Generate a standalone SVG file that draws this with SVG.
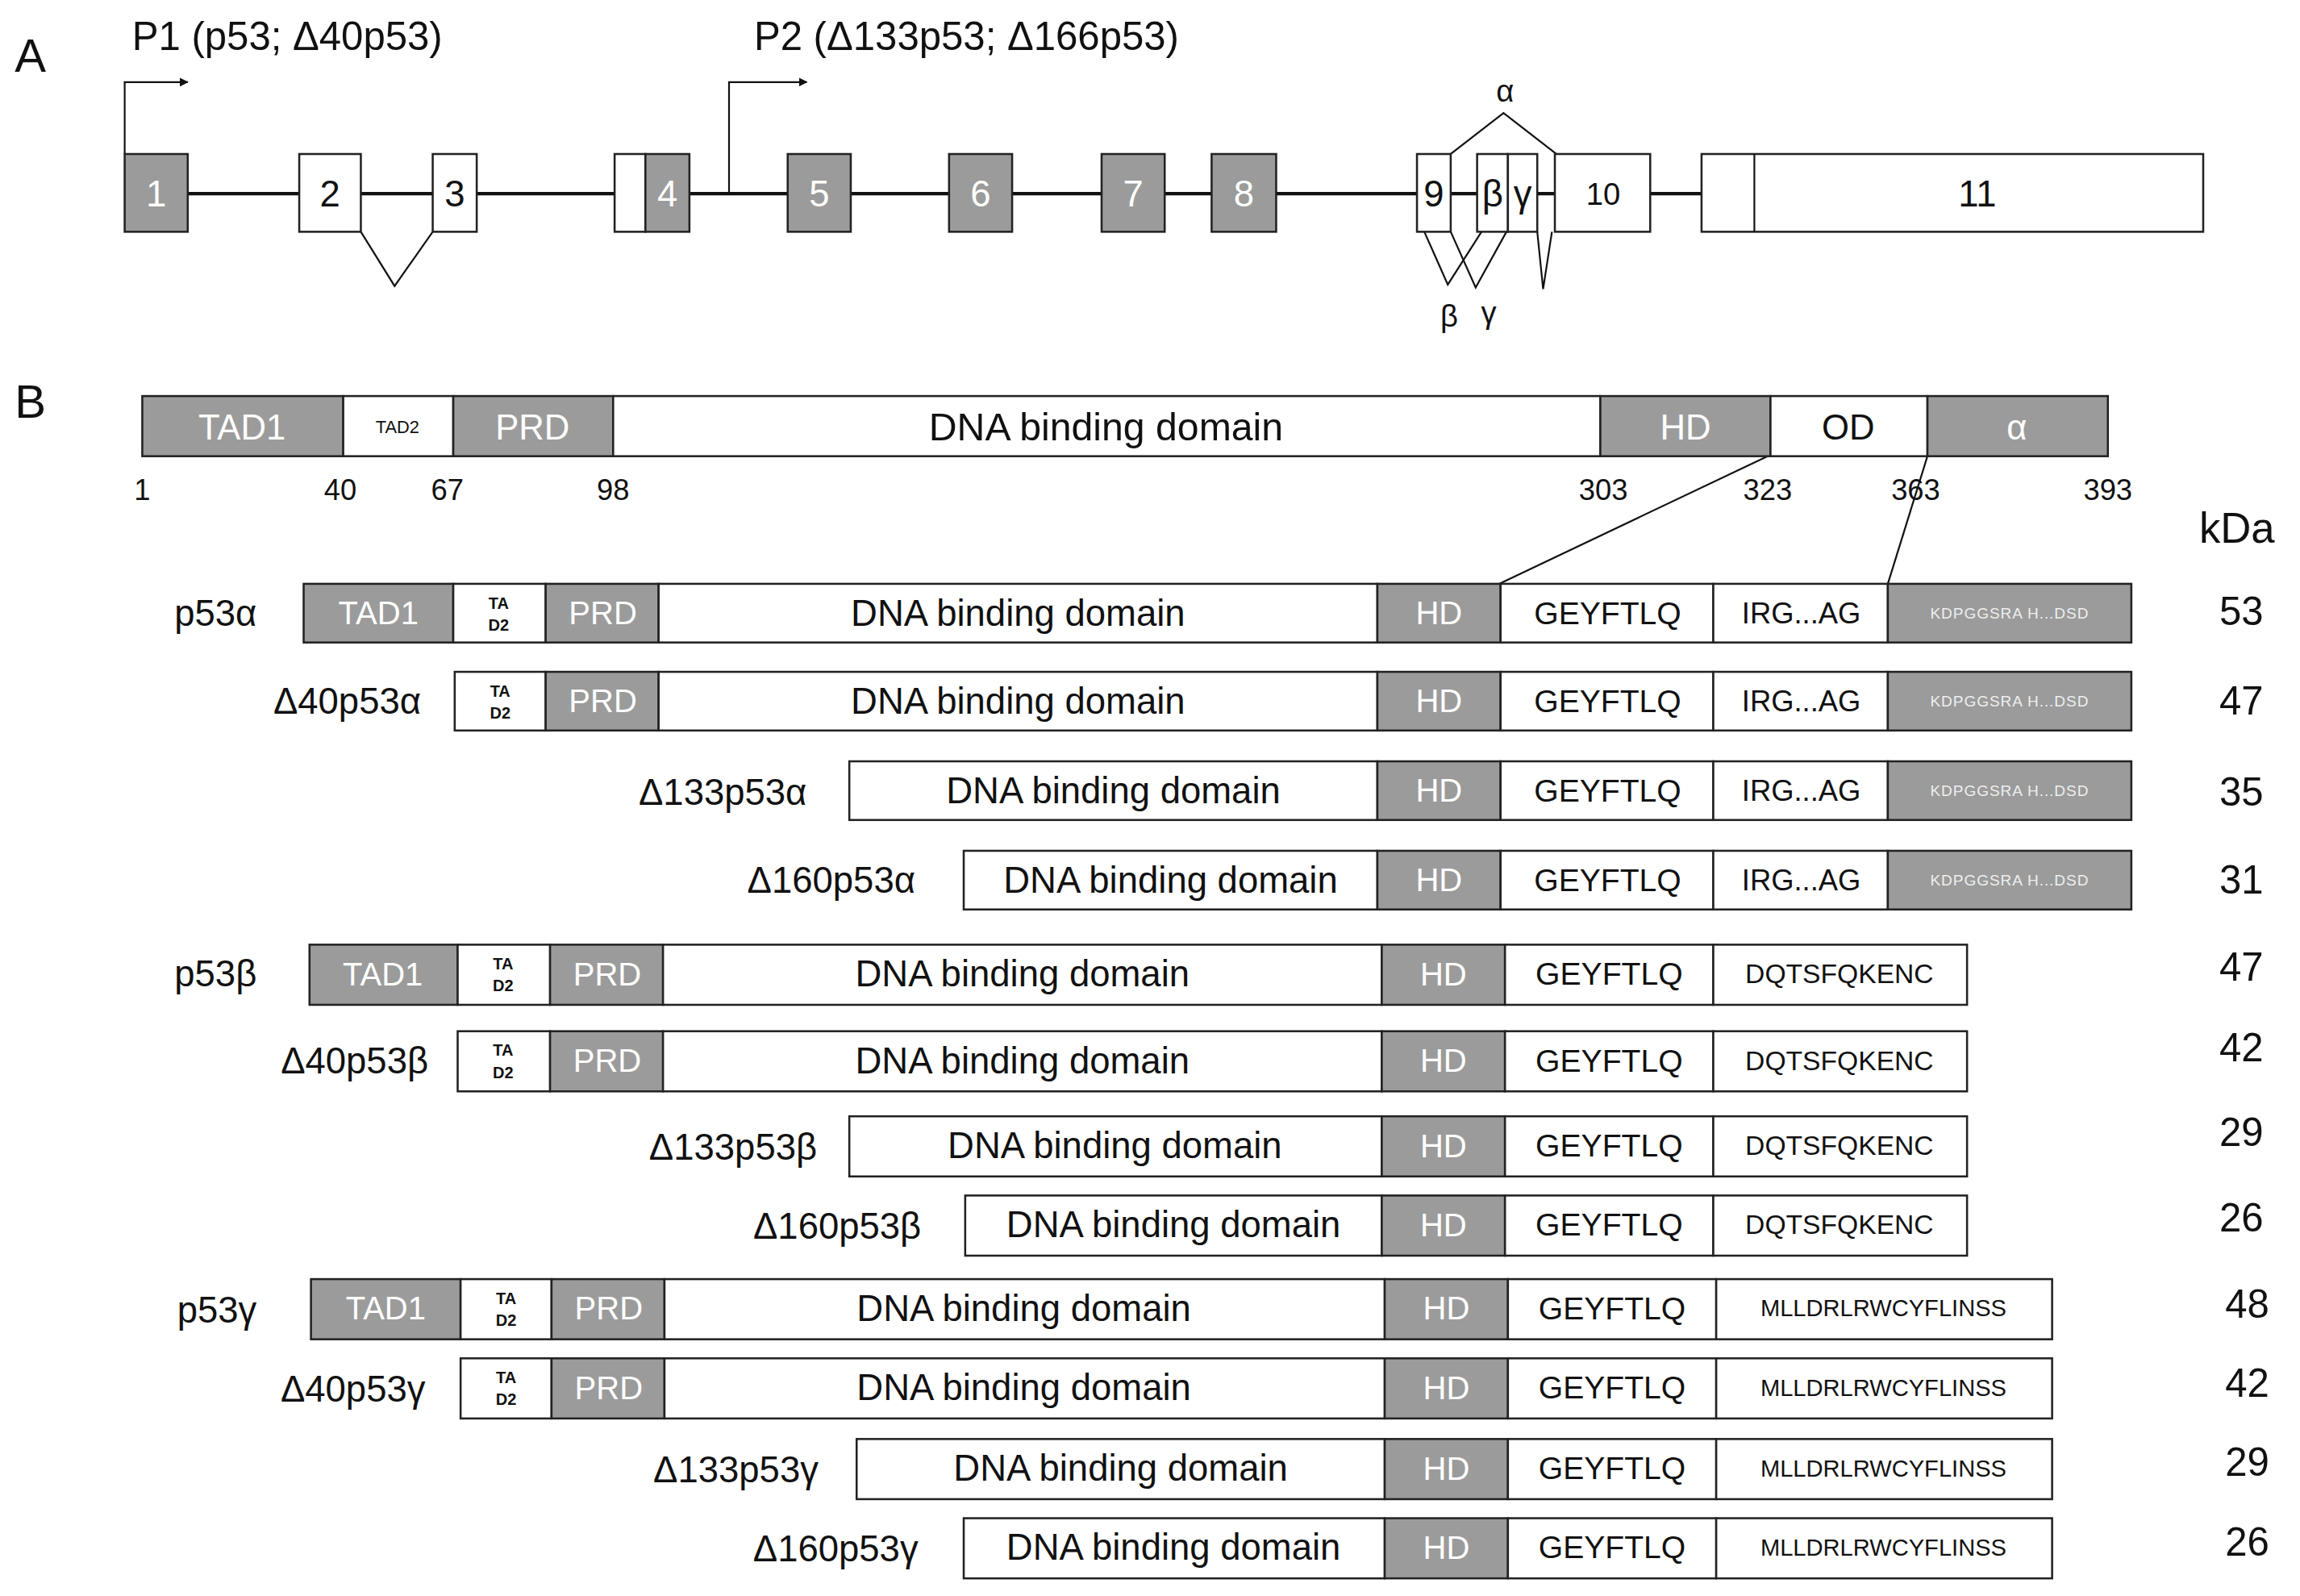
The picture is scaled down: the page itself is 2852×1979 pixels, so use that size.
<svg xmlns="http://www.w3.org/2000/svg" width="2852" height="1979" viewBox="0 0 2852 1979">
<defs>
<style>
text{font-family:"Liberation Sans",Arial,sans-serif;fill:#111}
.g{fill:#9b9b9b;stroke:#222;stroke-width:1.4}
.w{fill:#fff;stroke:#222;stroke-width:1.4}
.ln{fill:none;stroke:#111;stroke-width:1.2}
.c{text-anchor:middle;dominant-baseline:central}
.wt{fill:#fff}
.lab{font-size:25px;text-anchor:end;dominant-baseline:central}
.kd{font-size:27px;text-anchor:middle;dominant-baseline:central}
.dbd{font-size:25px}
.gey{font-size:21.5px}
.irg{font-size:20px}
.dq{font-size:18.5px}
.ml{font-size:16px}
.al{font-size:10.5px;fill:#eee;letter-spacing:0.5px}
.dom{font-size:22px}
.td{font-size:11px;font-weight:bold}
.ex{font-size:25px}
</style>
<marker id="ah" viewBox="0 0 10 10" refX="9" refY="5" markerWidth="5" markerHeight="5" orient="auto" markerUnits="strokeWidth"><path d="M0,0 L10,5 L0,10 z" fill="#111"/></marker>
</defs>
<rect width="2852" height="1979" fill="#fff"/>
<g transform="scale(1.8189)">
<text x="10" y="49" font-size="32">A</text>
<text x="10" y="285" font-size="32">B</text>
<text x="90" y="34" font-size="27">P1 (p53; Δ40p53)</text>
<text x="514" y="34" font-size="27">P2 (Δ133p53; Δ166p53)</text>
<g id="connectors">
<line x1="128" y1="132" x2="1160" y2="132" stroke="#111" stroke-width="2.4"/>
<path class="ln" d="M85 105 V56 H128" stroke-width="1.5" marker-end="url(#ah)"/>
<path class="ln" d="M497 132 V56 H550" stroke-width="1.5" marker-end="url(#ah)"/>
<path class="ln" d="M246 158 L269 195 L295 158"/>
<path class="ln" d="M989 105 L1025 77 L1061 105"/>
<path class="ln" d="M971 158 L987 194 L1010 158"/>
<path class="ln" d="M989 158 L1006 196 L1027 158"/>
<path class="ln" d="M1048 158 L1052 197 L1058 158"/>
<line class="ln" x1="1205" y1="311" x2="1022" y2="398"/>
<line class="ln" x1="1314" y1="311" x2="1287" y2="398"/>
</g>
<g id="exons">
<g id="ex1"><rect class="g" x="85" y="105" width="43" height="53"/><text class="c ex wt" x="106.5" y="132">1</text></g>
<g id="ex2"><rect class="w" x="204" y="105" width="42" height="53"/><text class="c ex" x="225" y="132">2</text></g>
<g id="ex3"><rect class="w" x="295" y="105" width="30" height="53"/><text class="c ex" x="310" y="132">3</text></g>
<g id="ex4"><rect class="w" x="419" y="105" width="21" height="53"/><rect class="g" x="440" y="105" width="30" height="53"/><text class="c ex wt" x="455" y="132">4</text></g>
<g id="ex5"><rect class="g" x="537" y="105" width="43" height="53"/><text class="c ex wt" x="558.5" y="132">5</text></g>
<g id="ex6"><rect class="g" x="647" y="105" width="43" height="53"/><text class="c ex wt" x="668.5" y="132">6</text></g>
<g id="ex7"><rect class="g" x="751" y="105" width="43" height="53"/><text class="c ex wt" x="772.5" y="132">7</text></g>
<g id="ex8"><rect class="g" x="826" y="105" width="44" height="53"/><text class="c ex wt" x="848" y="132">8</text></g>
<g id="ex9"><rect class="w" x="966" y="105" width="23" height="53"/><text class="c ex" x="977.5" y="132">9</text></g>
<g id="exb"><rect class="w" x="1007" y="105" width="21" height="53"/><text class="c ex" x="1017.5" y="132">β</text></g>
<g id="exg"><rect class="w" x="1028" y="105" width="20" height="53"/><text class="c ex" x="1038" y="132">γ</text></g>
<g id="ex10"><rect class="w" x="1060" y="105" width="65" height="53"/><text class="c" font-size="21" x="1093" y="132">10</text></g>
<g id="ex11"><rect class="w" x="1160" y="105" width="342" height="53"/><line class="ln" x1="1196" y1="105" x2="1196" y2="158"/><text class="c ex" x="1348" y="132">11</text></g>
<text class="c" font-size="21" x="1026" y="62">α</text>
<text class="c" font-size="21" x="988" y="215">β</text>
<text class="c" font-size="21" x="1015" y="213">γ</text>
</g>
<g id="ref">
<rect class="g" x="97" y="270" width="137" height="41"/><text class="c wt" font-size="24" x="165" y="291">TAD1</text>
<rect class="w" x="234" y="270" width="75" height="41"/><text class="c" font-size="12" x="271" y="291">TAD2</text>
<rect class="g" x="309" y="270" width="109" height="41"/><text class="c wt" font-size="24" x="363" y="291">PRD</text>
<rect class="w" x="418" y="270" width="673" height="41"/><text class="c" font-size="26.5" x="754" y="291">DNA binding domain</text>
<rect class="g" x="1091" y="270" width="116" height="41"/><text class="c wt" font-size="24" x="1149" y="291">HD</text>
<rect class="w" x="1207" y="270" width="107" height="41"/><text class="c" font-size="24" x="1260" y="291">OD</text>
<rect class="g" x="1314" y="270" width="123" height="41"/><text class="c wt" font-size="24" x="1375" y="291">α</text>
<g font-size="20" text-anchor="middle">
<text x="97" y="341">1</text><text x="232" y="341">40</text><text x="305" y="341">67</text><text x="418" y="341">98</text>
<text x="1093" y="341">303</text><text x="1205" y="341">323</text><text x="1306" y="341">363</text><text x="1437" y="341">393</text>
</g>
<text class="c" font-size="29" x="1525" y="360">kDa</text>
</g>
<!-- alpha rows -->
<g id="p53a"><text class="lab" x="175" y="418">p53α</text>
<rect class="g" x="207" y="398" width="102" height="40"/><text class="c dom wt" x="258" y="418">TAD1</text>
<rect class="w" x="309" y="398" width="63" height="40"/><text class="c td" x="340" y="411">TA</text><text class="c td" x="340" y="426">D2</text>
<rect class="g" x="372" y="398" width="77" height="40"/><text class="c dom wt" x="411" y="418">PRD</text>
<rect class="w" x="449" y="398" width="490" height="40"/><text class="c dbd" x="694" y="418">DNA binding domain</text>
<rect class="g" x="939" y="398" width="84" height="40"/><text class="c dom wt" x="981" y="418">HD</text>
<rect class="w" x="1023" y="398" width="145" height="40"/><text class="c gey" x="1096" y="418">GEYFTLQ</text>
<rect class="w" x="1168" y="398" width="119" height="40"/><text class="c irg" x="1228" y="418">IRG...AG</text>
<rect class="g" x="1287" y="398" width="166" height="40"/><text class="c al" x="1370" y="418">KDPGGSRA H...DSD</text>
<text class="kd" x="1528" y="417">53</text></g>
<g id="d40p53a"><text class="lab" x="287" y="478">Δ40p53α</text>
<rect class="w" x="310" y="458" width="62" height="40"/><text class="c td" x="341" y="471">TA</text><text class="c td" x="341" y="486">D2</text>
<rect class="g" x="372" y="458" width="77" height="40"/><text class="c dom wt" x="411" y="478">PRD</text>
<rect class="w" x="449" y="458" width="490" height="40"/><text class="c dbd" x="694" y="478">DNA binding domain</text>
<rect class="g" x="939" y="458" width="84" height="40"/><text class="c dom wt" x="981" y="478">HD</text>
<rect class="w" x="1023" y="458" width="145" height="40"/><text class="c gey" x="1096" y="478">GEYFTLQ</text>
<rect class="w" x="1168" y="458" width="119" height="40"/><text class="c irg" x="1228" y="478">IRG...AG</text>
<rect class="g" x="1287" y="458" width="166" height="40"/><text class="c al" x="1370" y="478">KDPGGSRA H...DSD</text>
<text class="kd" x="1528" y="478">47</text></g>
<g id="d133p53a"><text class="lab" x="550" y="540">Δ133p53α</text>
<rect class="w" x="579" y="519" width="360" height="40"/><text class="c dbd" x="759" y="539">DNA binding domain</text>
<rect class="g" x="939" y="519" width="84" height="40"/><text class="c dom wt" x="981" y="539">HD</text>
<rect class="w" x="1023" y="519" width="145" height="40"/><text class="c gey" x="1096" y="539">GEYFTLQ</text>
<rect class="w" x="1168" y="519" width="119" height="40"/><text class="c irg" x="1228" y="539">IRG...AG</text>
<rect class="g" x="1287" y="519" width="166" height="40"/><text class="c al" x="1370" y="539">KDPGGSRA H...DSD</text>
<text class="kd" x="1528" y="540">35</text></g>
<g id="d160p53a"><text class="lab" x="624" y="600">Δ160p53α</text>
<rect class="w" x="657" y="580" width="282" height="40"/><text class="c dbd" x="798" y="600">DNA binding domain</text>
<rect class="g" x="939" y="580" width="84" height="40"/><text class="c dom wt" x="981" y="600">HD</text>
<rect class="w" x="1023" y="580" width="145" height="40"/><text class="c gey" x="1096" y="600">GEYFTLQ</text>
<rect class="w" x="1168" y="580" width="119" height="40"/><text class="c irg" x="1228" y="600">IRG...AG</text>
<rect class="g" x="1287" y="580" width="166" height="40"/><text class="c al" x="1370" y="600">KDPGGSRA H...DSD</text>
<text class="kd" x="1528" y="600">31</text></g>
<!-- beta rows -->
<g id="p53b"><text class="lab" x="175" y="664">p53β</text>
<rect class="g" x="211" y="644" width="101" height="41"/><text class="c dom wt" x="261" y="664">TAD1</text>
<rect class="w" x="312" y="644" width="63" height="41"/><text class="c td" x="343" y="657">TA</text><text class="c td" x="343" y="672">D2</text>
<rect class="g" x="375" y="644" width="77" height="41"/><text class="c dom wt" x="414" y="664">PRD</text>
<rect class="w" x="452" y="644" width="490" height="41"/><text class="c dbd" x="697" y="664">DNA binding domain</text>
<rect class="g" x="942" y="644" width="84" height="41"/><text class="c dom wt" x="984" y="664">HD</text>
<rect class="w" x="1026" y="644" width="142" height="41"/><text class="c gey" x="1097" y="664">GEYFTLQ</text>
<rect class="w" x="1168" y="644" width="173" height="41"/><text class="c dq" x="1254" y="664">DQTSFQKENC</text>
<text class="kd" x="1528" y="659">47</text></g>
<g id="d40p53b"><text class="lab" x="292" y="723">Δ40p53β</text>
<rect class="w" x="312" y="703" width="63" height="41"/><text class="c td" x="343" y="716">TA</text><text class="c td" x="343" y="731">D2</text>
<rect class="g" x="375" y="703" width="77" height="41"/><text class="c dom wt" x="414" y="723">PRD</text>
<rect class="w" x="452" y="703" width="490" height="41"/><text class="c dbd" x="697" y="723">DNA binding domain</text>
<rect class="g" x="942" y="703" width="84" height="41"/><text class="c dom wt" x="984" y="723">HD</text>
<rect class="w" x="1026" y="703" width="142" height="41"/><text class="c gey" x="1097" y="723">GEYFTLQ</text>
<rect class="w" x="1168" y="703" width="173" height="41"/><text class="c dq" x="1254" y="723">DQTSFQKENC</text>
<text class="kd" x="1528" y="714">42</text></g>
<g id="d133p53b"><text class="lab" x="557" y="782">Δ133p53β</text>
<rect class="w" x="579" y="761" width="363" height="41"/><text class="c dbd" x="760" y="781">DNA binding domain</text>
<rect class="g" x="942" y="761" width="84" height="41"/><text class="c dom wt" x="984" y="781">HD</text>
<rect class="w" x="1026" y="761" width="142" height="41"/><text class="c gey" x="1097" y="781">GEYFTLQ</text>
<rect class="w" x="1168" y="761" width="173" height="41"/><text class="c dq" x="1254" y="781">DQTSFQKENC</text>
<text class="kd" x="1528" y="772">29</text></g>
<g id="d160p53b"><text class="lab" x="628" y="836">Δ160p53β</text>
<rect class="w" x="658" y="815" width="284" height="41"/><text class="c dbd" x="800" y="835">DNA binding domain</text>
<rect class="g" x="942" y="815" width="84" height="41"/><text class="c dom wt" x="984" y="835">HD</text>
<rect class="w" x="1026" y="815" width="142" height="41"/><text class="c gey" x="1097" y="835">GEYFTLQ</text>
<rect class="w" x="1168" y="815" width="173" height="41"/><text class="c dq" x="1254" y="835">DQTSFQKENC</text>
<text class="kd" x="1528" y="830">26</text></g>
<!-- gamma rows -->
<g id="p53g"><text class="lab" x="175" y="893">p53γ</text>
<rect class="g" x="212" y="872" width="102" height="41"/><text class="c dom wt" x="263" y="892">TAD1</text>
<rect class="w" x="314" y="872" width="62" height="41"/><text class="c td" x="345" y="885">TA</text><text class="c td" x="345" y="900">D2</text>
<rect class="g" x="376" y="872" width="77" height="41"/><text class="c dom wt" x="415" y="892">PRD</text>
<rect class="w" x="453" y="872" width="491" height="41"/><text class="c dbd" x="698" y="892">DNA binding domain</text>
<rect class="g" x="944" y="872" width="84" height="41"/><text class="c dom wt" x="986" y="892">HD</text>
<rect class="w" x="1028" y="872" width="142" height="41"/><text class="c gey" x="1099" y="892">GEYFTLQ</text>
<rect class="w" x="1170" y="872" width="229" height="41"/><text class="c ml" x="1284" y="892">MLLDRLRWCYFLINSS</text>
<text class="kd" x="1532" y="889">48</text></g>
<g id="d40p53g"><text class="lab" x="290" y="947">Δ40p53γ</text>
<rect class="w" x="314" y="926" width="62" height="41"/><text class="c td" x="345" y="939">TA</text><text class="c td" x="345" y="954">D2</text>
<rect class="g" x="376" y="926" width="77" height="41"/><text class="c dom wt" x="415" y="946">PRD</text>
<rect class="w" x="453" y="926" width="491" height="41"/><text class="c dbd" x="698" y="946">DNA binding domain</text>
<rect class="g" x="944" y="926" width="84" height="41"/><text class="c dom wt" x="986" y="946">HD</text>
<rect class="w" x="1028" y="926" width="142" height="41"/><text class="c gey" x="1099" y="946">GEYFTLQ</text>
<rect class="w" x="1170" y="926" width="229" height="41"/><text class="c ml" x="1284" y="946">MLLDRLRWCYFLINSS</text>
<text class="kd" x="1532" y="943">42</text></g>
<g id="d133p53g"><text class="lab" x="558" y="1002">Δ133p53γ</text>
<rect class="w" x="584" y="981" width="360" height="41"/><text class="c dbd" x="764" y="1001">DNA binding domain</text>
<rect class="g" x="944" y="981" width="84" height="41"/><text class="c dom wt" x="986" y="1001">HD</text>
<rect class="w" x="1028" y="981" width="142" height="41"/><text class="c gey" x="1099" y="1001">GEYFTLQ</text>
<rect class="w" x="1170" y="981" width="229" height="41"/><text class="c ml" x="1284" y="1001">MLLDRLRWCYFLINSS</text>
<text class="kd" x="1532" y="997">29</text></g>
<g id="d160p53g"><text class="lab" x="626" y="1056">Δ160p53γ</text>
<rect class="w" x="657" y="1035" width="287" height="41"/><text class="c dbd" x="800" y="1055">DNA binding domain</text>
<rect class="g" x="944" y="1035" width="84" height="41"/><text class="c dom wt" x="986" y="1055">HD</text>
<rect class="w" x="1028" y="1035" width="142" height="41"/><text class="c gey" x="1099" y="1055">GEYFTLQ</text>
<rect class="w" x="1170" y="1035" width="229" height="41"/><text class="c ml" x="1284" y="1055">MLLDRLRWCYFLINSS</text>
<text class="kd" x="1532" y="1051">26</text></g>
</g>
</svg>
